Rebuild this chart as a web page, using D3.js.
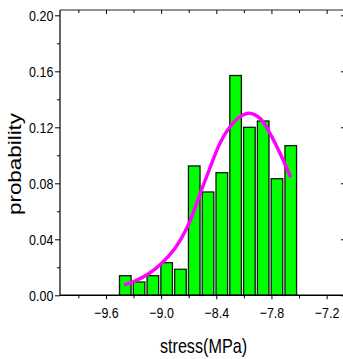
<!DOCTYPE html>
<html><head><meta charset="utf-8">
<script src="https://cdn.jsdelivr.net/npm/d3@7"></script>
<style>
html,body{margin:0;padding:0;background:#fff;}
svg{display:block;}
text{font-family:"Liberation Sans",Arial,sans-serif;fill:#000;}
</style></head>
<body><svg id="c" width="343" height="359"></svg>
<script>
// ---- data ----
const binCenters = [-9.39,-9.24,-9.09,-8.94,-8.79,-8.64,-8.49,-8.34,-8.19,-8.04,-7.89,-7.74,-7.59];
const probabilities = [0.014,0.0095,0.014,0.0233,0.0186,0.0924,0.0738,0.0876,0.157,0.120,0.1245,0.0833,0.1069];
const fitX = [-9.401,-9.284,-9.140,-8.994,-8.849,-8.705,-8.577,-8.450,-8.360,-8.251,-8.142,-8.041,-7.925,-7.816,-7.707,-7.591];
const fitY = [0.0074,0.0102,0.0152,0.0229,0.0336,0.0502,0.0724,0.0943,0.1086,0.1204,0.1276,0.1300,0.1264,0.1157,0.1014,0.0843];
const xTickLabels = ["-9.6","-9.0","-8.4","-7.8","-7.2"];
const yTickLabels = ["0.00","0.04","0.08","0.12","0.16","0.20"];
const xLabel = "stress(MPa)";
const yLabel = "probability";

// ---- layout ----
const L = 60, R = 345, T = 10, B = 295.3;
const S = 0.83; // horizontal squish of the lettering
const x = d3.scaleLinear().domain([-10.1, -7.0]).range([L, R]);
const y = d3.scaleLinear().domain([0, 0.2038]).range([B, T]);
const halfBar = 0.063;

const svg = d3.select("#c");

// bars
svg.append("g").selectAll("rect").data(binCenters).join("rect")
  .attr("x", d => x(d - halfBar))
  .attr("width", d => x(d + halfBar) - x(d - halfBar))
  .attr("y", (d, i) => y(probabilities[i]))
  .attr("height", (d, i) => y(0) - y(probabilities[i]))
  .attr("fill", "#00ff00").attr("stroke", "#0a1a0a").attr("stroke-width", 1.3);

// fit curve
const line = d3.line().x(d => x(d[0])).y(d => y(d[1])).curve(d3.curveCatmullRom);
svg.append("path").datum(fitX.map((v, i) => [v, fitY[i]]))
  .attr("d", line).attr("fill", "none").attr("stroke", "#ff00ff")
  .attr("stroke-width", 3.4).attr("stroke-linecap", "butt");

const fmtX = d3.format(".1f"), fmtY = d3.format(".2f");
const xMajor = xTickLabels.map(Number);
const xMinor = d3.range(-9.9, -7.0, 0.6).map(v => +v.toFixed(2));
const yMajor = yTickLabels.map(Number);
const yMinor = [0.02,0.06,0.10,0.14,0.18];

function styleAxis(g){ g.select(".domain").remove(); g.selectAll("line").attr("stroke","#000"); g.selectAll("text").style("font-size","15px").attr("fill","#000"); }

// bottom axis
const gb = svg.append("g").attr("transform", `translate(0,${B})`);
gb.call(d3.axisBottom(x).tickValues(xMajor).tickFormat(fmtX).tickSize(4).tickPadding(7.8)).call(styleAxis);
gb.selectAll(".tick text").attr("transform", `scale(${S},1)`);
gb.append("g").call(d3.axisBottom(x).tickValues(xMinor).tickFormat("").tickSize(3)).call(styleAxis);
// top axis (inward)
const gt = svg.append("g").attr("transform", `translate(0,${T})`);
gt.call(d3.axisBottom(x).tickValues(xMajor).tickFormat("").tickSize(4)).call(styleAxis);
gt.append("g").call(d3.axisBottom(x).tickValues(xMinor).tickFormat("").tickSize(3)).call(styleAxis);
// left axis
const gl = svg.append("g").attr("transform", `translate(${L},0)`);
gl.call(d3.axisLeft(y).tickValues(yMajor).tickFormat(fmtY).tickSize(5)).call(styleAxis);
gl.selectAll(".tick text").attr("x", -6.7 / S).attr("transform", `scale(${S},1)`);
gl.append("g").call(d3.axisLeft(y).tickValues(yMinor).tickFormat("").tickSize(3)).call(styleAxis);
// right axis (inward)
const gr = svg.append("g").attr("transform", `translate(${R},0)`);
gr.call(d3.axisLeft(y).tickValues(yMajor).tickFormat("").tickSize(4)).call(styleAxis);

// frame lines
svg.append("line").attr("x1", L).attr("x2", R).attr("y1", B).attr("y2", B).attr("stroke", "#000").attr("stroke-width", 1.5);
svg.append("line").attr("x1", L).attr("x2", L).attr("y1", T).attr("y2", B).attr("stroke", "#000").attr("stroke-width", 1.2);
svg.append("line").attr("x1", L).attr("x2", R).attr("y1", T).attr("y2", T).attr("stroke", "#222").attr("stroke-width", 1);
svg.append("line").attr("x1", R).attr("x2", R).attr("y1", T).attr("y2", B).attr("stroke", "#000").attr("stroke-width", 1);

// labels
svg.append("text").attr("transform", `scale(${S},1)`)
  .attr("x", 203.5 / S).attr("y", 353).attr("text-anchor", "middle")
  .style("font-size", "19.5px").text(xLabel);
svg.append("text").attr("transform", `translate(21,164) scale(${S},1) rotate(-90)`)
  .attr("text-anchor", "middle").attr("textLength", 102).attr("lengthAdjust", "spacingAndGlyphs")
  .style("font-size", "21px").text(yLabel);
</script></body></html>
